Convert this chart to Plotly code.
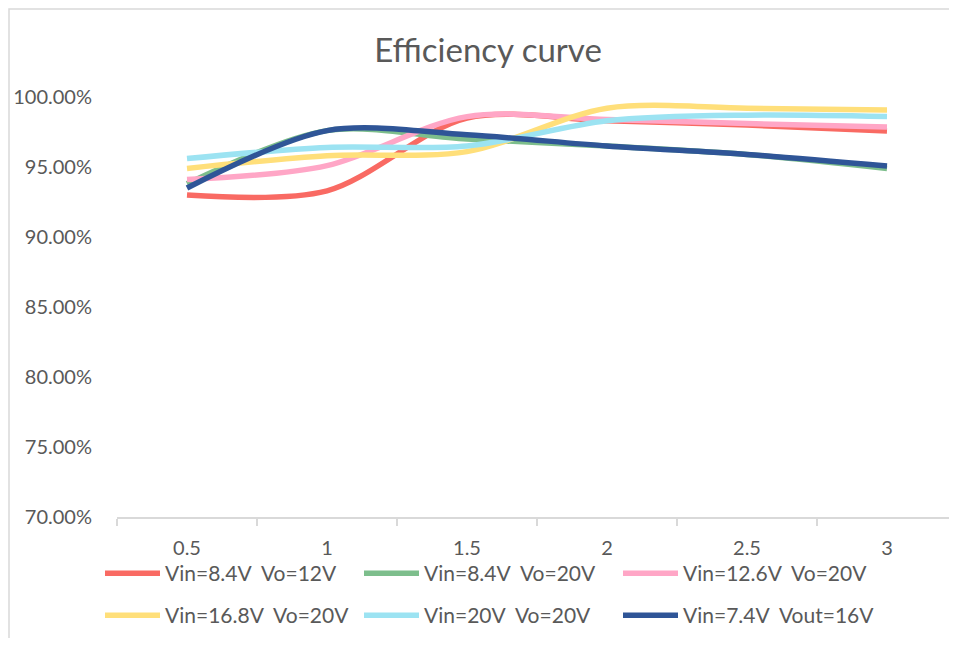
import plotly.graph_objects as go

categories = ["0.5", "1", "1.5", "2", "2.5", "3"]
series_names = [
    "Vin=8.4V\u00a0 Vo=12V",
    "Vin=8.4V\u00a0 Vo=20V",
    "Vin=12.6V\u00a0 Vo=20V",
    "Vin=16.8V\u00a0 Vo=20V",
    "Vin=20V\u00a0 Vo=20V",
    "Vin=7.4V\u00a0 Vout=16V",
]
red_vals = [0.930, 0.933, 0.985, 0.983, 0.980, 0.9757]
green_vals = [0.938, 0.976, 0.970, 0.965, 0.959, 0.949]
pink_vals = [0.941, 0.951, 0.986, 0.984, 0.981, 0.9786]
yellow_vals = [0.949, 0.958, 0.961, 0.992, 0.992, 0.9907]
blue_vals = [0.956, 0.964, 0.965, 0.983, 0.987, 0.986]
navy_vals = [0.935, 0.976, 0.973, 0.965, 0.959, 0.9507]
y_ticks = [0.70, 0.75, 0.80, 0.85, 0.90, 0.95, 1.00]

all_vals = [red_vals, green_vals, pink_vals, yellow_vals, blue_vals, navy_vals]
colors = ["#F96A63", "#7DBE8C", "#FFA6C6", "#FFDF7A", "#9CE3F2", "#2F5597"]

FONT = "Lato"
TXT = "#595959"
OFF = 8  # page body margin

fig = go.Figure()
for i, (name, vals, col) in enumerate(zip(series_names, all_vals, colors)):
    fig.add_trace(go.Scatter(
        x=categories, y=vals, name=name, mode="lines",
        line=dict(color=col, width=5.5, shape="spline", smoothing=0.9),
        legend="legend" if i < 3 else "legend2",
    ))

W, H = 941, 630
L, T = 117 - OFF, 97 - OFF
R = 0
B = H - (517 - OFF)
pw, ph = W - L - R, H - T - B
cat_px = 140.0
x_hi = -0.5 + pw / cat_px

def px_x(x):
    return (x - OFF - L) / pw

def px_y(y):
    return (H - B - (y - OFF)) / ph

fig.update_layout(
    width=W, height=H,
    margin=dict(l=L, r=R, t=T, b=B),
    paper_bgcolor="white", plot_bgcolor="white",
    font=dict(family=FONT, size=20, color=TXT),
    title=dict(text="Efficiency curve", x=px_x(488), xref="paper", xanchor="center",
               y=1 - (50 - OFF) / H, yref="container", yanchor="middle",
               font=dict(family=FONT, size=33, color=TXT)),
    xaxis=dict(type="category", range=[-0.5, x_hi], showgrid=False, zeroline=False,
               showline=True, linecolor="#D9D9D9", linewidth=2,
               ticks="outside", ticklen=7, tickcolor="#D9D9D9", tickwidth=2,
               tickson="boundaries", ticklabelstandoff=12,
               tickfont=dict(family=FONT, size=20, color=TXT)),
    yaxis=dict(range=[0.70, 1.00], tickvals=y_ticks, tickformat=".2%",
               showgrid=False, zeroline=False, showline=False, ticks="",
               ticklabelstandoff=24,
               tickfont=dict(family=FONT, size=20, color=TXT)),
    legend=dict(orientation="h", x=px_x(100), xanchor="left", y=px_y(553), yanchor="top",
                entrywidth=189, entrywidthmode="pixels", itemwidth=55,
                font=dict(family=FONT, size=21, color=TXT), bgcolor="rgba(0,0,0,0)"),
    legend2=dict(orientation="h", x=px_x(100), xanchor="left", y=px_y(595), yanchor="top",
                 entrywidth=189, entrywidthmode="pixels", itemwidth=55,
                 font=dict(family=FONT, size=21, color=TXT), bgcolor="rgba(0,0,0,0)"),
    shapes=[dict(type="rect", xref="paper", yref="paper",
                 x0=px_x(OFF + 1), x1=px_x(990), y0=px_y(700), y1=px_y(OFF + 1),
                 line=dict(color="#D9D9D9", width=1.5), fillcolor="rgba(0,0,0,0)",
                 layer="below")],
)

fig.write_html("out.html")
